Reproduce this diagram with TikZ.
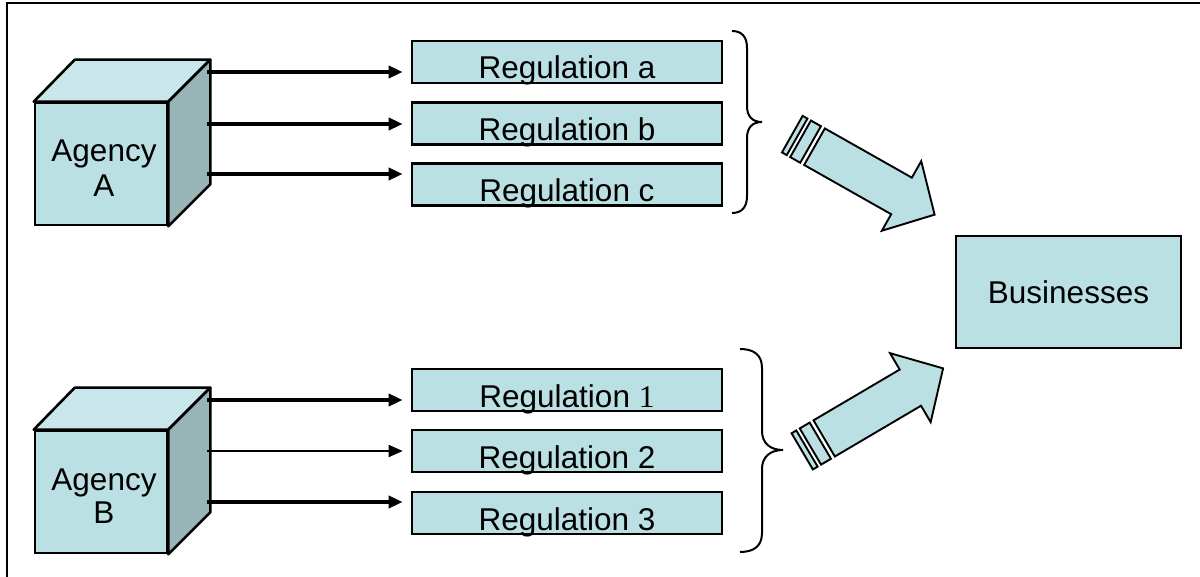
\documentclass[tikz,border=0pt]{standalone}
\usepackage{fontspec}
\setmainfont{Liberation Sans}
\newfontfamily\timesf{Liberation Serif}
\usetikzlibrary{arrows.meta}
\definecolor{boxfill}{HTML}{BBE0E3}
\definecolor{topfill}{HTML}{C9E7EA}
\definecolor{sidefill}{HTML}{97B4B7}
\begin{document}
\begin{tikzpicture}[x=1pt,y=-1pt,
  reg/.style={draw, line width=2.6pt, fill=boxfill, minimum width=310pt, inner sep=0pt, text height=38pt, text depth=4pt, font=\fontsize{31.5}{36}\selectfont},
  face/.style={draw, line width=2.6pt, fill=boxfill, minimum width=132pt, minimum height=122pt, inner sep=0pt},
  topface/.style={draw, line width=2.6pt, fill=topfill, line join=round},
  sideface/.style={draw, line width=2.6pt, fill=sidefill, line join=round},
  lbl/.style={inner sep=0pt, anchor=base, font=\fontsize{31.5}{36}\selectfont},
  flow/.style={line width=3.6pt, -{Triangle[length=14pt,width=12pt]}, shorten >=8pt},
  thinflow/.style={flow, line width=1.6pt},
  brace/.style={line width=2pt},
  fat/.style={draw, line width=1.9pt, fill=boxfill, line join=miter},
]
\clip (0,0) rectangle (1200,577);
\fill[white] (0,0) rectangle (1200,577);
% frame
\draw[line width=2.6pt] (7,600) -- (7,3) -- (1210,3);

% Agency A cube
\node[face] (agA) at (101,164) {};
\draw[topface] (agA.north west) -- ++(41,-42) -- ([shift={(42,-42)}]agA.north east) -- (agA.north east) -- cycle;
\draw[sideface] (agA.north east) -- ([shift={(42,-42)}]agA.north east) -- ([shift={(42,-42)}]agA.south east) -- (agA.south east) -- cycle;
\node[lbl] (agAt1) at (104,162) {Agency};
\node[lbl] (agAt2) at (104,197) {A};

% Agency B cube
\node[face] (agB) at (101,492) {};
\draw[topface] (agB.north west) -- ++(41,-42) -- ([shift={(42,-42)}]agB.north east) -- (agB.north east) -- cycle;
\draw[sideface] (agB.north east) -- ([shift={(42,-42)}]agB.north east) -- ([shift={(42,-42)}]agB.south east) -- (agB.south east) -- cycle;
\node[lbl] (agBt1) at (104,490) {Agency};
\node[lbl] (agBt2) at (104,523) {B};

% regulations
\node[reg] (ra) at (567,62) {Regulation a};
\node[reg] (rb) at (567,123.5) {Regulation b};
\node[reg] (rc) at (567,184.5) {Regulation c};
\node[reg] (r1) at (567,390) {Regulation {\timesf 1}};
\node[reg] (r2) at (567,451) {Regulation 2};
\node[reg] (r3) at (567,513) {Regulation 3};

% arrows from agencies
\coordinate (a1) at (207,72);
\coordinate (a2) at (207,124);
\coordinate (a3) at (207,174);
\coordinate (b1) at (207,400);
\coordinate (b2) at (207,451);
\coordinate (b3) at (207,502);
\draw[flow] (a1) -- (a1 -| ra.west);
\draw[flow] (a2) -- (a2 -| rb.west);
\draw[flow] (a3) -- (a3 -| rc.west);
\draw[flow] (b1) -- (b1 -| r1.west);
\draw[thinflow] (b2) -- (b2 -| r2.west);
\draw[flow] (b3) -- (b3 -| r3.west);

% braces
\draw[brace] (732,31) .. controls (742,31) and (747,37) .. (747,48) -- (747,106) .. controls (747,116) and (752,122) .. (762,122) .. controls (752,122) and (747,128) .. (747,138) -- (747,196) .. controls (747,207) and (742,213) .. (732,213);
\draw[brace] (740,349) .. controls (754,349) and (762,355) .. (762,368) -- (762,431) .. controls (762,443) and (770,450) .. (783,450) .. controls (770,450) and (762,457) .. (762,469) -- (762,533) .. controls (762,546) and (754,552) .. (740,552);

% businesses
\node[draw, line width=2.6pt, fill=boxfill, minimum width=225pt, minimum height=112pt, inner sep=0pt, font=\fontsize{31.5}{36}\selectfont] (bus) at (1068.5,292) {Businesses};

% striped fat arrows
\begin{scope}[shift={(814.5,146.7)}, rotate=-29.5]
  \path[fat] (0,-21) -- (100,-21) -- (100,-40) -- (138,0) -- (100,40) -- (100,21) -- (0,21) -- cycle;
  \path[fat] (-16,-21) rectangle (-4.5,21);
  \path[fat] (-25.5,-21) rectangle (-20,21);
\end{scope}
\begin{scope}[shift={(824.2,438.4)}, rotate=30.5]
  \path[fat] (0,-21) -- (100,-21) -- (100,-40) -- (138,0) -- (100,40) -- (100,21) -- (0,21) -- cycle;
  \path[fat] (-16,-21) rectangle (-4.5,21);
  \path[fat] (-25.5,-21) rectangle (-20,21);
\end{scope}
\end{tikzpicture}
\end{document}
